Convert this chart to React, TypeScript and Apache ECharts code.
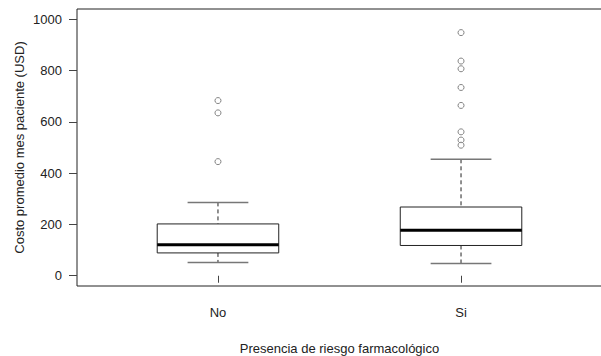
import React, { useEffect, useRef } from "react";
import * as echarts from "echarts";

const categories = ["No", "Si"];
// [low whisker, Q1, median, Q3, high whisker]
const boxStats = [
  [52, 89, 121, 202, 286],
  [48, 118, 177, 268, 454],
];
const outliersNo = [683, 635, 445];
const outliersSi = [948, 837, 807, 734, 664, 561, 529, 509];
const yTicks = [0, 200, 400, 600, 800, 1000];

export default function App() {
  const ref = useRef<HTMLDivElement>(null);
  useEffect(() => {
    if (!ref.current) return;
    const chart = echarts.init(ref.current, null, { renderer: "svg" });
    const boxData = boxStats.map((s, i) => [i + 1, ...s]);
    const outlierData = [
      ...outliersNo.map((v) => [1, v]),
      ...outliersSi.map((v) => [2, v]),
    ];
    const textStyle = { color: "#222", fontFamily: "Liberation Sans, Arial, sans-serif", fontSize: 13 };
    chart.setOption({
      animation: false,
      grid: {
        left: 77,
        top: 9,
        width: 525,
        height: 277,
        show: true,
        borderColor: "#222",
        borderWidth: 1,
        backgroundColor: "transparent",
        outerBoundsMode: "none",
        containLabel: false,
      },
      xAxis: {
        type: "value",
        min: 0.42,
        max: 2.58,
        splitLine: { show: false },
        axisLine: { show: false },
        axisTick: { show: true, length: 7, lineStyle: { color: "#444" }, customValues: [1, 2] },
        axisLabel: {
          ...textStyle,
          margin: 20,
          customValues: [1, 2],
          formatter: (v: number) => categories[Math.round(v) - 1] ?? "",
        },
        name: "Presencia de riesgo farmacológico",
        nameLocation: "middle",
        nameGap: 56,
        nameMoveOverlap: false,
        nameTextStyle: textStyle,
      },
      yAxis: {
        type: "value",
        min: -40,
        max: 1040,
        splitLine: { show: false },
        axisLine: { show: false },
        axisTick: { show: true, length: 8, lineStyle: { color: "#444" }, customValues: yTicks },
        axisLabel: { ...textStyle, margin: 15, customValues: yTicks, formatter: (v: number) => String(v) },
        name: "Costo promedio mes paciente (USD)",
        nameLocation: "middle",
        nameGap: 51,
        nameMoveOverlap: false,
        nameTextStyle: textStyle,
      },
      series: [
        {
          type: "custom",
          data: boxData,
          encode: { x: 0, y: [1, 2, 3, 4, 5] },
          renderItem: (params: any, api: any) => {
            const x = api.value(0);
            const low = api.coord([x, api.value(1)]);
            const q1 = api.coord([x, api.value(2)]);
            const med = api.coord([x, api.value(3)]);
            const q3 = api.coord([x, api.value(4)]);
            const high = api.coord([x, api.value(5)]);
            const bw = api.size([0.5, 0])[0];
            const cw = api.size([0.25, 0])[0];
            const cx = low[0];
            return {
              type: "group",
              children: [
                { type: "line", shape: { x1: cx, y1: high[1], x2: cx, y2: q3[1] }, style: { stroke: "#222", lineWidth: 1, lineDash: [4, 3] } },
                { type: "line", shape: { x1: cx, y1: q1[1], x2: cx, y2: low[1] }, style: { stroke: "#222", lineWidth: 1, lineDash: [4, 3] } },
                { type: "line", shape: { x1: cx - cw / 2, y1: high[1], x2: cx + cw / 2, y2: high[1] }, style: { stroke: "#777", lineWidth: 1.5 } },
                { type: "line", shape: { x1: cx - cw / 2, y1: low[1], x2: cx + cw / 2, y2: low[1] }, style: { stroke: "#777", lineWidth: 1.5 } },
                { type: "rect", shape: { x: cx - bw / 2, y: q3[1], width: bw, height: q1[1] - q3[1] }, style: { fill: "#fff", stroke: "#222", lineWidth: 1 } },
                { type: "line", shape: { x1: cx - bw / 2, y1: med[1], x2: cx + bw / 2, y2: med[1] }, style: { stroke: "#000", lineWidth: 3 } },
              ],
            };
          },
        },
        {
          type: "scatter",
          data: outlierData,
          symbol: "circle",
          symbolSize: 6,
          itemStyle: { color: "#fff", borderColor: "#666", borderWidth: 1 },
        },
      ],
    });
    return () => chart.dispose();
  }, []);
  return <div ref={ref} style={{ width: 601, height: 356, position: "absolute", left: 0, top: 0, background: "#fff" }} />;
}
